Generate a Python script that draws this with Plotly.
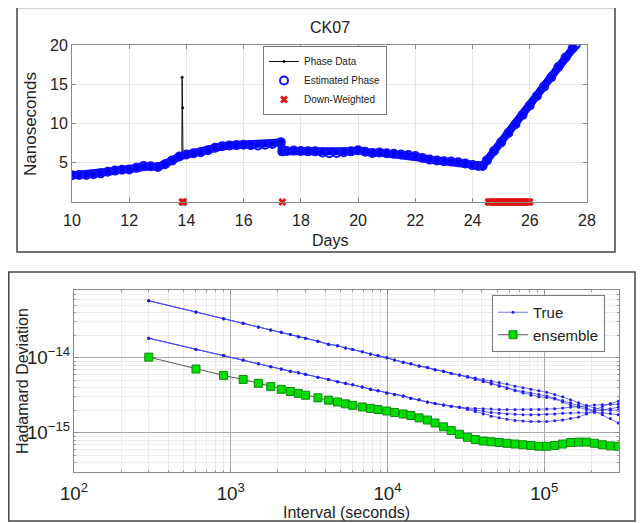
import plotly.graph_objects as go

# ---------------- top panel data (CK07 phase) ----------------
est_days = [10.0, 10.25, 10.5, 10.75, 11.0, 11.25, 11.5, 11.75, 12.0, 12.25, 12.5, 12.75,
            13.0, 13.25, 13.5, 13.75, 14.0, 14.25, 14.5, 14.75, 15.0, 15.25, 15.5, 15.75,
            16.0, 16.25, 16.5, 16.75, 17.0, 17.3, 17.35, 17.5, 17.75, 18.0, 18.25, 18.5,
            18.75, 19.0, 19.25, 19.5, 19.75, 20.0, 20.25, 20.5, 20.75, 21.0, 21.25, 21.5,
            21.75, 22.0, 22.25, 22.5, 22.75, 23.0, 23.25, 23.5, 23.75, 24.0, 24.2, 24.35,
            24.5, 24.75, 25.0, 25.25, 25.5, 25.75, 26.0, 26.25, 26.5, 26.75, 27.0, 27.25,
            27.5, 27.6]
est_ns = [3.4, 3.45, 3.45, 3.55, 3.65, 3.85, 4.0, 4.1, 4.15, 4.35, 4.6, 4.55,
          4.45, 4.8, 5.3, 5.8, 6.05, 6.2, 6.35, 6.6, 6.9, 7.1, 7.2, 7.25,
          7.3, 7.25, 7.2, 7.3, 7.4, 7.6, 6.45, 6.5, 6.55, 6.5, 6.45, 6.45,
          6.3, 6.2, 6.25, 6.35, 6.45, 6.6, 6.4, 6.25, 6.3, 6.2, 6.15, 6.05,
          6.0, 5.85, 5.6, 5.4, 5.3, 5.2, 5.15, 5.05, 4.9, 4.7, 4.6, 4.6,
          5.3, 6.5, 7.6, 8.8, 9.9, 11.1, 12.3, 13.5, 14.7, 15.9, 17.2, 18.4,
          19.6, 20.0]

spike_days = [13.84, 13.85, 13.86, 13.87, 13.88]
spike_ns = [6.0, 15.9, 6.05, 12.0, 6.05]

dw_days = [13.85, 13.9, 17.35,
           24.55, 24.6, 24.65, 24.7, 24.75, 24.8, 24.85, 24.9, 24.95, 25.0,
           25.05, 25.1, 25.15, 25.2, 25.25, 25.3, 25.35, 25.4, 25.45, 25.5,
           25.55, 25.6, 25.65, 25.7, 25.75, 25.8, 25.85, 25.9, 25.95, 26.0]
dw_ns = [0.0 for _ in dw_days]

day_ticks = [10, 12, 14, 16, 18, 20, 22, 24, 26, 28]
ns_ticks = [5, 10, 15, 20]

# ---------------- bottom panel data (Hadamard deviation) ----------------
tau = [300, 600, 900, 1200, 1500, 1800, 2100, 2400, 2700, 3000, 3600, 4200, 4800, 5400,
       6000, 6900, 7800, 8700, 9900, 11100, 12600, 14100, 15900, 18000, 20100, 22800,
       25500, 28800, 32400, 36300, 40800, 45900, 51600, 57900, 65100, 73200, 82200,
       92400, 103800, 116700, 131100, 147300, 165600, 186000, 209100, 234900, 264000,
       296700]

ensemble = [1.02e-14, 7.08e-15, 5.82e-15, 5.13e-15, 4.57e-15, 4.12e-15, 3.80e-15, 3.55e-15,
            3.35e-15, 3.16e-15, 2.92e-15, 2.72e-15, 2.57e-15, 2.43e-15, 2.32e-15, 2.21e-15,
            2.11e-15, 2.04e-15, 1.95e-15, 1.86e-15, 1.78e-15, 1.70e-15, 1.58e-15, 1.48e-15,
            1.35e-15, 1.20e-15, 1.07e-15, 9.55e-16, 8.71e-16, 8.13e-16, 7.76e-16, 7.59e-16,
            7.41e-16, 7.24e-16, 7.08e-16, 6.92e-16, 6.76e-16, 6.61e-16, 6.61e-16, 6.76e-16,
            7.08e-16, 7.41e-16, 7.50e-16, 7.50e-16, 7.24e-16, 6.92e-16, 6.68e-16, 6.61e-16]

true_a_early = [5.75e-14, 4.07e-14, 3.31e-14, 2.88e-14, 2.57e-14, 2.34e-14, 2.19e-14, 2.04e-14,
                1.91e-14, 1.82e-14, 1.66e-14, 1.51e-14, 1.45e-14, 1.35e-14, 1.29e-14, 1.20e-14,
                1.12e-14, 1.07e-14, 1.00e-14, 9.33e-15, 8.71e-15, 8.32e-15, 7.76e-15, 7.41e-15,
                6.92e-15, 6.61e-15, 6.17e-15, 5.89e-15]
true_b_early = [1.82e-14, 1.29e-14, 1.07e-14, 9.33e-15, 8.32e-15, 7.59e-15, 7.08e-15, 6.61e-15,
                6.31e-15, 6.03e-15, 5.50e-15, 5.13e-15, 4.79e-15, 4.57e-15, 4.37e-15, 4.07e-15,
                3.80e-15, 3.63e-15, 3.39e-15, 3.24e-15, 3.09e-15, 2.88e-15, 2.75e-15, 2.57e-15,
                2.45e-15, 2.34e-15, 2.26e-15, 2.19e-15]

true_a1_late = [5.62e-15, 5.37e-15, 5.13e-15, 4.90e-15, 4.68e-15, 4.47e-15, 4.17e-15, 3.98e-15,
                3.80e-15, 3.63e-15, 3.47e-15, 3.24e-15, 3.02e-15, 2.75e-15, 2.51e-15, 2.29e-15,
                2.14e-15, 2.04e-15, 2.00e-15, 2.00e-15]
true_a2_late = [5.50e-15, 5.13e-15, 4.79e-15, 4.47e-15, 4.17e-15, 3.89e-15, 3.72e-15, 3.55e-15,
                3.39e-15, 3.24e-15, 3.09e-15, 2.88e-15, 2.69e-15, 2.51e-15, 2.34e-15, 2.14e-15,
                1.95e-15, 1.74e-15, 1.55e-15, 1.35e-15]
true_a3_late = [5.62e-15, 5.25e-15, 4.90e-15, 4.57e-15, 4.27e-15, 3.98e-15, 3.63e-15, 3.39e-15,
                3.16e-15, 3.02e-15, 2.95e-15, 2.82e-15, 2.57e-15, 2.34e-15, 2.19e-15, 2.04e-15,
                1.95e-15, 2.00e-15, 2.09e-15, 2.19e-15]
true_b1_late = [2.14e-15, 2.11e-15, 2.09e-15, 2.07e-15, 2.04e-15, 2.04e-15, 2.04e-15, 2.04e-15,
                2.04e-15, 2.04e-15, 2.07e-15, 2.09e-15, 2.14e-15, 2.19e-15, 2.26e-15, 2.32e-15,
                2.34e-15, 2.37e-15, 2.40e-15, 2.40e-15]
true_b2_late = [2.09e-15, 2.00e-15, 1.93e-15, 1.86e-15, 1.82e-15, 1.78e-15, 1.76e-15, 1.74e-15,
                1.74e-15, 1.74e-15, 1.76e-15, 1.78e-15, 1.82e-15, 1.84e-15, 1.86e-15, 1.86e-15,
                1.86e-15, 1.84e-15, 1.80e-15, 1.74e-15]
true_b3_late = [2.04e-15, 1.91e-15, 1.78e-15, 1.66e-15, 1.58e-15, 1.51e-15, 1.46e-15, 1.43e-15,
                1.41e-15, 1.41e-15, 1.41e-15, 1.45e-15, 1.48e-15, 1.55e-15, 1.62e-15, 1.78e-15,
                2.00e-15, 2.24e-15, 2.45e-15, 2.63e-15]

true_series = [
    true_a_early + true_a1_late,
    true_a_early + true_a2_late,
    true_a_early + true_a3_late,
    true_b_early + true_b1_late,
    true_b_early + true_b2_late,
    true_b_early + true_b3_late,
]

# ---------------- figure geometry (pixels of the 644x523 page) ----------------
# the page body has an 8 px default margin, so the figure is 8 px smaller each way
OFF = 8
W, H = 644 - OFF, 523 - OFF
FONT = "Liberation Sans, Arial, Helvetica, sans-serif"
TXT = "#222222"


def px(x):
    return (x - OFF) / W


def py(y):
    return 1 - (y - OFF) / H


fig = go.Figure()

# phase data (black line with spike)
ph = sorted(zip(est_days + spike_days, est_ns + spike_ns))
fig.add_trace(go.Scatter(
    x=[p[0] for p in ph], y=[p[1] for p in ph], mode="lines+markers",
    name="Phase Data", line=dict(color="#111111", width=1),
    marker=dict(size=3, color="#111111"), xaxis="x", yaxis="y", legend="legend"))

# estimated phase: thick band + open circles
fig.add_trace(go.Scatter(
    x=est_days, y=est_ns, mode="lines", showlegend=False,
    line=dict(color="#0000ff", width=8), xaxis="x", yaxis="y", hoverinfo="skip"))
fig.add_trace(go.Scatter(
    x=est_days, y=est_ns, mode="markers", name="Estimated Phase",
    marker=dict(symbol="circle-open", size=8, color="#1010ff", line=dict(width=2)),
    xaxis="x", yaxis="y", legend="legend"))

# down-weighted
fig.add_trace(go.Scatter(
    x=dw_days, y=dw_ns, mode="markers", name="Down-Weighted", cliponaxis=False,
    marker=dict(symbol="x", size=7, color="#e01010", line=dict(width=0)),
    xaxis="x", yaxis="y", legend="legend"))

# True hadamard deviations
for i, s in enumerate(true_series):
    fig.add_trace(go.Scatter(
        x=tau, y=s, mode="lines+markers", name="True", legendgroup="true",
        showlegend=(i == 0), line=dict(color="rgba(70,70,255,0.75)", width=1),
        marker=dict(size=3, color="#2020ee"), xaxis="x2", yaxis="y2", legend="legend2"))

# ensemble
fig.add_trace(go.Scatter(
    x=tau, y=ensemble, mode="lines+markers", name="ensemble",
    line=dict(color="#555555", width=1),
    marker=dict(symbol="square", size=8, color="#00dd00", line=dict(color="#118811", width=1)),
    xaxis="x2", yaxis="y2", legend="legend2"))

axis_common = dict(showline=True, linecolor="#888888", linewidth=1, mirror="ticks",
                   ticks="inside", tickcolor="#888888", ticklen=4, zeroline=False,
                   automargin=False)


def label(text, x, y, size, angle=0):
    return dict(text=text, x=px(x), y=py(y), xref="paper", yref="paper",
                xanchor="center", yanchor="middle", textangle=angle, showarrow=False,
                font=dict(size=size, family=FONT, color=TXT))


fig.update_layout(
    width=W, height=H, margin=dict(l=0, r=0, t=0, b=0),
    paper_bgcolor="white", plot_bgcolor="white",
    font=dict(family=FONT, color=TXT),
    xaxis=dict(domain=[px(72), px(587)], range=[10, 28], tickvals=day_ticks,
               showgrid=True, gridcolor="#e6e6e6", anchor="y", ticklabelstandoff=4,
               tickfont=dict(family=FONT, size=16, color=TXT), **axis_common),
    yaxis=dict(domain=[py(202), py(45)], range=[0, 20], tickvals=ns_ticks,
               showgrid=True, gridcolor="#e6e6e6", anchor="x",
               tickfont=dict(family=FONT, size=16, color=TXT), **axis_common),
    xaxis2=dict(domain=[px(74), px(619)], type="log", range=[2, 5.4771], dtick=1,
                exponentformat="power", showgrid=True, gridcolor="#aaaaaa", anchor="y2",
                ticklabelstandoff=5,
                tickfont=dict(family=FONT, size=15, color=TXT),
                minor=dict(ticks="inside", ticklen=2, tickcolor="#999999", showgrid=True,
                           gridcolor="#ebebeb"),
                **axis_common),
    yaxis2=dict(domain=[py(472), py(290)], type="log", range=[-15.5229, -13.0969], dtick=1,
                exponentformat="power", showgrid=True, gridcolor="#aaaaaa", anchor="x2",
                tickfont=dict(family=FONT, size=15, color=TXT),
                minor=dict(ticks="inside", ticklen=2, tickcolor="#999999", showgrid=True,
                           gridcolor="#ebebeb"),
                **axis_common),
    legend=dict(x=px(263), y=py(46), xanchor="left", yanchor="top",
                bgcolor="white", bordercolor="#777777", borderwidth=1,
                font=dict(family=FONT, size=10, color=TXT), tracegroupgap=0,
                itemwidth=30),
    legend2=dict(x=px(492), y=py(295), xanchor="left", yanchor="top",
                 bgcolor="white", bordercolor="#777777", borderwidth=1,
                 font=dict(family=FONT, size=15, color=TXT), tracegroupgap=0),
    shapes=[
        dict(type="rect", xref="paper", yref="paper", x0=px(17), x1=px(615),
             y0=py(252), y1=py(7.5), line=dict(color="#444444", width=1.5)),
        dict(type="rect", xref="paper", yref="paper", x0=px(8.8), x1=px(635),
             y0=py(521), y1=py(272), line=dict(color="#444444", width=1.5)),
    ],
    annotations=[
        label("CK07", 330, 27, 16),
        label("Nanoseconds", 30, 124, 17, -90),
        label("Days", 330, 240, 16),
        label("Hadamard Deviation", 22, 381, 16, -90),
        label("Interval (seconds)", 346, 512, 16),
    ],
)

fig.write_html("out.html")
